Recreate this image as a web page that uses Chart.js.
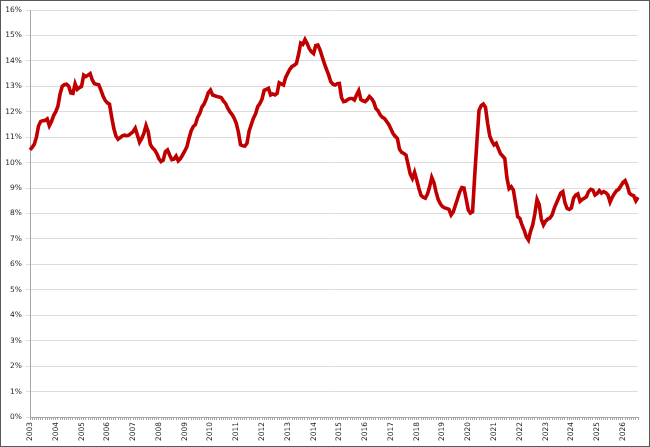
<!DOCTYPE html>
<html>
<head>
<meta charset="utf-8">
<script src="https://cdn.jsdelivr.net/npm/chart.js@4/dist/chart.umd.min.js"></script>
<style>
  html, body { margin: 0; padding: 0; background: #fff; }
  #wrap {
    width: 650px; height: 447px; box-sizing: border-box;
    border: 1px solid #595959; background: #fff;
  }
  #chart { display: block; }
</style>
</head>
<body>
<div id="wrap"><canvas id="chart" width="648" height="445"></canvas></div>
<script>
const years = [2003, 2004, 2005, 2006, 2007, 2008, 2009, 2010, 2011, 2012, 2013, 2014,
               2015, 2016, 2017, 2018, 2019, 2020, 2021, 2022, 2023, 2024, 2025, 2026];

// monthly values (%), one row per year
const monthly = [
    [10.50, 10.60, 10.72, 11.00, 11.45, 11.62, 11.65, 11.66, 11.72, 11.45, 11.62, 11.85],
    [12.00, 12.22, 12.70, 13.00, 13.06, 13.08, 13.00, 12.74, 12.72, 13.10, 12.88, 12.95],
    [13.00, 13.44, 13.38, 13.44, 13.50, 13.25, 13.10, 13.08, 13.06, 12.85, 12.62, 12.45],
    [12.35, 12.30, 11.80, 11.35, 11.05, 10.92, 10.98, 11.05, 11.08, 11.06, 11.08, 11.15],
    [11.22, 11.35, 11.08, 10.80, 10.95, 11.15, 11.46, 11.22, 10.72, 10.58, 10.50, 10.36],
    [10.16, 10.04, 10.10, 10.43, 10.50, 10.30, 10.12, 10.14, 10.26, 10.07, 10.16, 10.30],
    [10.45, 10.62, 10.95, 11.25, 11.42, 11.50, 11.78, 11.93, 12.18, 12.30, 12.50, 12.75],
    [12.85, 12.66, 12.63, 12.60, 12.58, 12.56, 12.43, 12.33, 12.15, 12.00, 11.90, 11.75],
    [11.55, 11.20, 10.70, 10.66, 10.65, 10.76, 11.25, 11.50, 11.75, 11.92, 12.20, 12.32],
    [12.50, 12.84, 12.88, 12.92, 12.66, 12.70, 12.66, 12.72, 13.14, 13.09, 13.05, 13.35],
    [13.52, 13.68, 13.78, 13.83, 13.90, 14.25, 14.70, 14.65, 14.84, 14.68, 14.48, 14.36],
    [14.29, 14.60, 14.62, 14.43, 14.16, 13.90, 13.67, 13.45, 13.18, 13.08, 13.05, 13.10],
    [13.11, 12.55, 12.40, 12.42, 12.49, 12.52, 12.52, 12.46, 12.66, 12.83, 12.48, 12.43],
    [12.40, 12.48, 12.60, 12.52, 12.38, 12.13, 12.04, 11.88, 11.78, 11.74, 11.62, 11.50],
    [11.32, 11.14, 11.03, 10.95, 10.52, 10.40, 10.36, 10.30, 9.92, 9.55, 9.38, 9.62],
    [9.32, 8.99, 8.72, 8.64, 8.60, 8.76, 9.05, 9.42, 9.22, 8.85, 8.55, 8.38],
    [8.27, 8.22, 8.20, 8.16, 7.94, 8.06, 8.32, 8.58, 8.85, 9.02, 9.00, 8.58],
    [8.14, 8.02, 8.07, 9.50, 10.80, 12.05, 12.24, 12.30, 12.18, 11.55, 11.05, 10.84],
    [10.70, 10.76, 10.55, 10.35, 10.26, 10.16, 9.40, 8.98, 9.05, 8.92, 8.40, 7.87],
    [7.81, 7.55, 7.35, 7.09, 6.96, 7.30, 7.55, 8.00, 8.55, 8.35, 7.78, 7.55],
    [7.70, 7.78, 7.82, 7.94, 8.20, 8.40, 8.60, 8.80, 8.86, 8.42, 8.20, 8.16],
    [8.22, 8.60, 8.72, 8.77, 8.48, 8.55, 8.60, 8.66, 8.86, 8.95, 8.92, 8.73],
    [8.79, 8.90, 8.80, 8.86, 8.82, 8.73, 8.45, 8.64, 8.78, 8.90, 8.95, 9.08],
    [9.22, 9.29, 9.10, 8.80, 8.73, 8.70, 8.50, 8.64]
];

const yTicks = [0, 1, 2, 3, 4, 5, 6, 7, 8, 9, 10, 11, 12, 13, 14, 15, 16];

const labels = [];
const values = [];
monthly.forEach((row, i) => {
    row.forEach((v, m) => {
        labels.push(m === 0 ? String(years[i]) : '');
        values.push(v);
    });
});

const axisFont = { family: 'DejaVu Sans', size: 7.5 };
const textColor = '#262626';

new Chart(document.getElementById('chart'), {
    type: 'line',
    data: {
        labels: labels,
        datasets: [{
            data: values,
            borderColor: '#C00000',
            borderWidth: 3.6,
            pointRadius: 0,
            tension: 0,
            fill: false
        }]
    },
    options: {
        responsive: false,
        animation: false,
        layout: { padding: { top: 9, right: 7, left: 0, bottom: 0 } },
        plugins: { legend: { display: false }, tooltip: { enabled: false } },
        scales: {
            x: {
                type: 'category',
                offset: false,
                grid: { drawOnChartArea: false, drawTicks: true, tickLength: 3, color: '#a6a6a6' },
                border: { color: '#a6a6a6' },
                ticks: {
                    autoSkip: false,
                    maxRotation: 90,
                    minRotation: 90,
                    padding: 2,
                    color: textColor,
                    font: axisFont,
                    callback: (v, i) => labels[i]
                },
                afterFit: (scale) => { scale.height = 29; }
            },
            y: {
                min: 0,
                max: 16,
                afterBuildTicks: (scale) => { scale.ticks = yTicks.map((v) => ({ value: v })); },
                grid: { color: '#dcdcdc', tickLength: 4, lineWidth: 1 },
                border: { color: '#a6a6a6' },
                ticks: {
                    padding: 4,
                    color: textColor,
                    font: axisFont,
                    callback: (v) => v + '%'
                },
                afterFit: (scale) => { scale.width = 29; }
            }
        }
    }
});
</script>
</body>
</html>
